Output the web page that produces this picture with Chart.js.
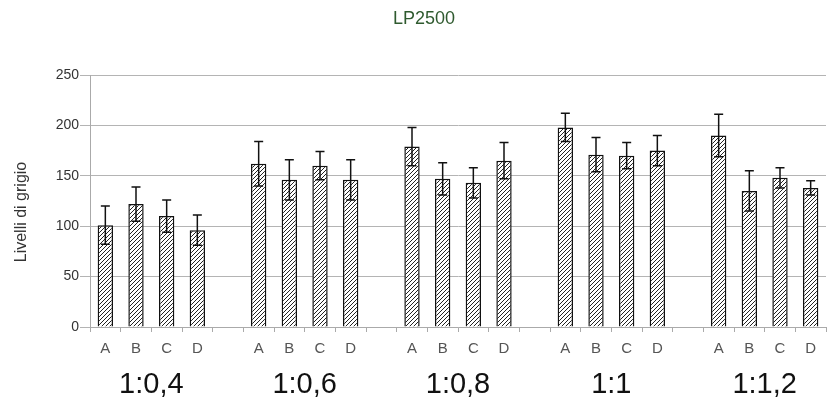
<!DOCTYPE html>
<html>
<head>
<meta charset="utf-8">
<script src="https://cdn.jsdelivr.net/npm/chart.js@4/dist/chart.umd.min.js"></script>
<style>
  html, body { margin: 0; padding: 0; background: #fff; }
  #wrap { width: 827px; height: 408px; }
</style>
</head>
<body>
<div id="wrap"><canvas id="chart" width="827" height="408"></canvas></div>
<script>
// === DATA ===

const groups = ["1:0,4", "1:0,6", "1:0,8", "1:1", "1:1,2"];
const samples = ["A", "B", "C", "D"];

const means = [
  [101, 122, 110, 96],
  [162, 146, 160, 146],
  [179, 147, 143, 165],
  [198, 171, 170, 175],
  [190, 135, 148, 138]
];

const errors = [
  [19, 17, 16, 15],
  [22, 20, 14, 20],
  [19, 16, 15, 18],
  [14, 17, 13, 15],
  [21, 20, 10, 7]
];

const yTicks = [0, 50, 100, 150, 200, 250];

const FONT = "'Liberation Sans', Arial, sans-serif";

// === BUILD SLOTS (one empty slot between groups) ===

const labels = [];
const values = [];
const errs = [];
const groupSlots = [];

groups.forEach((g, gi) => {
  const first = labels.length;
  samples.forEach((s, si) => {
    labels.push(s);
    values.push(means[gi][si]);
    errs.push(errors[gi][si]);
  });
  groupSlots.push([first, labels.length - 1]);
  if (gi < groups.length - 1) {
    labels.push("");
    values.push(null);
    errs.push(null);
  }
});

// === HATCH PATTERN ===

function makeHatch() {
  const c = document.createElement("canvas");
  c.width = 4;
  c.height = 4;
  const x = c.getContext("2d");
  x.fillStyle = "#ffffff";
  x.fillRect(0, 0, 4, 4);
  x.strokeStyle = "#222";
  x.lineWidth = 1;
  x.beginPath();
  x.moveTo(-1, 5); x.lineTo(5, -1);
  x.moveTo(-1, 1); x.lineTo(1, -1);
  x.moveTo(3, 5); x.lineTo(5, 3);
  x.stroke();
  return x.createPattern(c, "repeat");
}

// === PLUGINS ===

const errorBars = {
  id: "errorBars",
  afterDatasetsDraw(chart) {
    const { ctx, scales } = chart;
    const meta = chart.getDatasetMeta(0);
    ctx.save();
    ctx.strokeStyle = "#111";
    ctx.lineWidth = 1.5;
    meta.data.forEach((bar, i) => {
      if (values[i] == null) return;
      const x = bar.x;
      const yTop = scales.y.getPixelForValue(values[i] + errs[i]);
      const yBot = scales.y.getPixelForValue(values[i] - errs[i]);
      ctx.beginPath();
      ctx.moveTo(x, yTop); ctx.lineTo(x, yBot);
      ctx.moveTo(x - 4.5, yTop); ctx.lineTo(x + 4.5, yTop);
      ctx.moveTo(x - 4.5, yBot); ctx.lineTo(x + 4.5, yBot);
      ctx.stroke();
    });
    ctx.restore();
  }
};

const texts = {
  id: "texts",
  afterDraw(chart) {
    const { ctx, scales } = chart;
    ctx.save();
    ctx.textAlign = "center";
    ctx.textBaseline = "middle";

    // title
    ctx.font = "18px " + FONT;
    ctx.fillStyle = "#2f5a2f";
    ctx.fillText("LP2500", 424, 19);

    // y axis title
    ctx.save();
    ctx.translate(22, 212);
    ctx.rotate(-Math.PI / 2);
    ctx.font = "16px " + FONT;
    ctx.fillStyle = "#333";
    ctx.fillText("Livelli di grigio", 0, 0);
    ctx.restore();

    // group labels
    ctx.font = "29px " + FONT;
    ctx.fillStyle = "#111";
    groupSlots.forEach(([a, b], gi) => {
      const x = (scales.x.getPixelForValue(a) + scales.x.getPixelForValue(b)) / 2;
      ctx.fillText(groups[gi], x, 385);
    });
    ctx.restore();
  }
};

// === CHART ===

new Chart(document.getElementById("chart"), {
  type: "bar",
  data: {
    labels: labels,
    datasets: [{
      data: values,
      backgroundColor: makeHatch(),
      borderColor: "#111",
      borderWidth: 1.5,
      categoryPercentage: 1,
      barPercentage: 0.5
    }]
  },
  options: {
    responsive: false,
    animation: false,
    layout: { padding: { left: 0, right: 1, top: 75, bottom: 0 } },
    plugins: {
      legend: { display: false },
      tooltip: { enabled: false },
      title: { display: false }
    },
    scales: {
      x: {
        grid: { drawOnChartArea: false, color: "#aaa", tickLength: 5, offset: true },
        border: { color: "#aaa" },
        ticks: {
          color: "#555",
          font: { family: FONT, size: 15 },
          padding: 8,
          maxRotation: 0,
          autoSkip: false
        },
        afterFit(s) { s.height = 81; }
      },
      y: {
        min: 0,
        max: 250,
        afterBuildTicks(s) { s.ticks = yTicks.map(v => ({ value: v })); },
        grid: { color: "#b4b4b4", tickLength: 10 },
        border: { color: "#aaa" },
        ticks: {
          color: "#333",
          font: { family: FONT, size: 14 },
          padding: 1
        },
        afterFit(s) { s.width = 90; }
      }
    }
  },
  plugins: [errorBars, texts]
});
</script>
</body>
</html>
